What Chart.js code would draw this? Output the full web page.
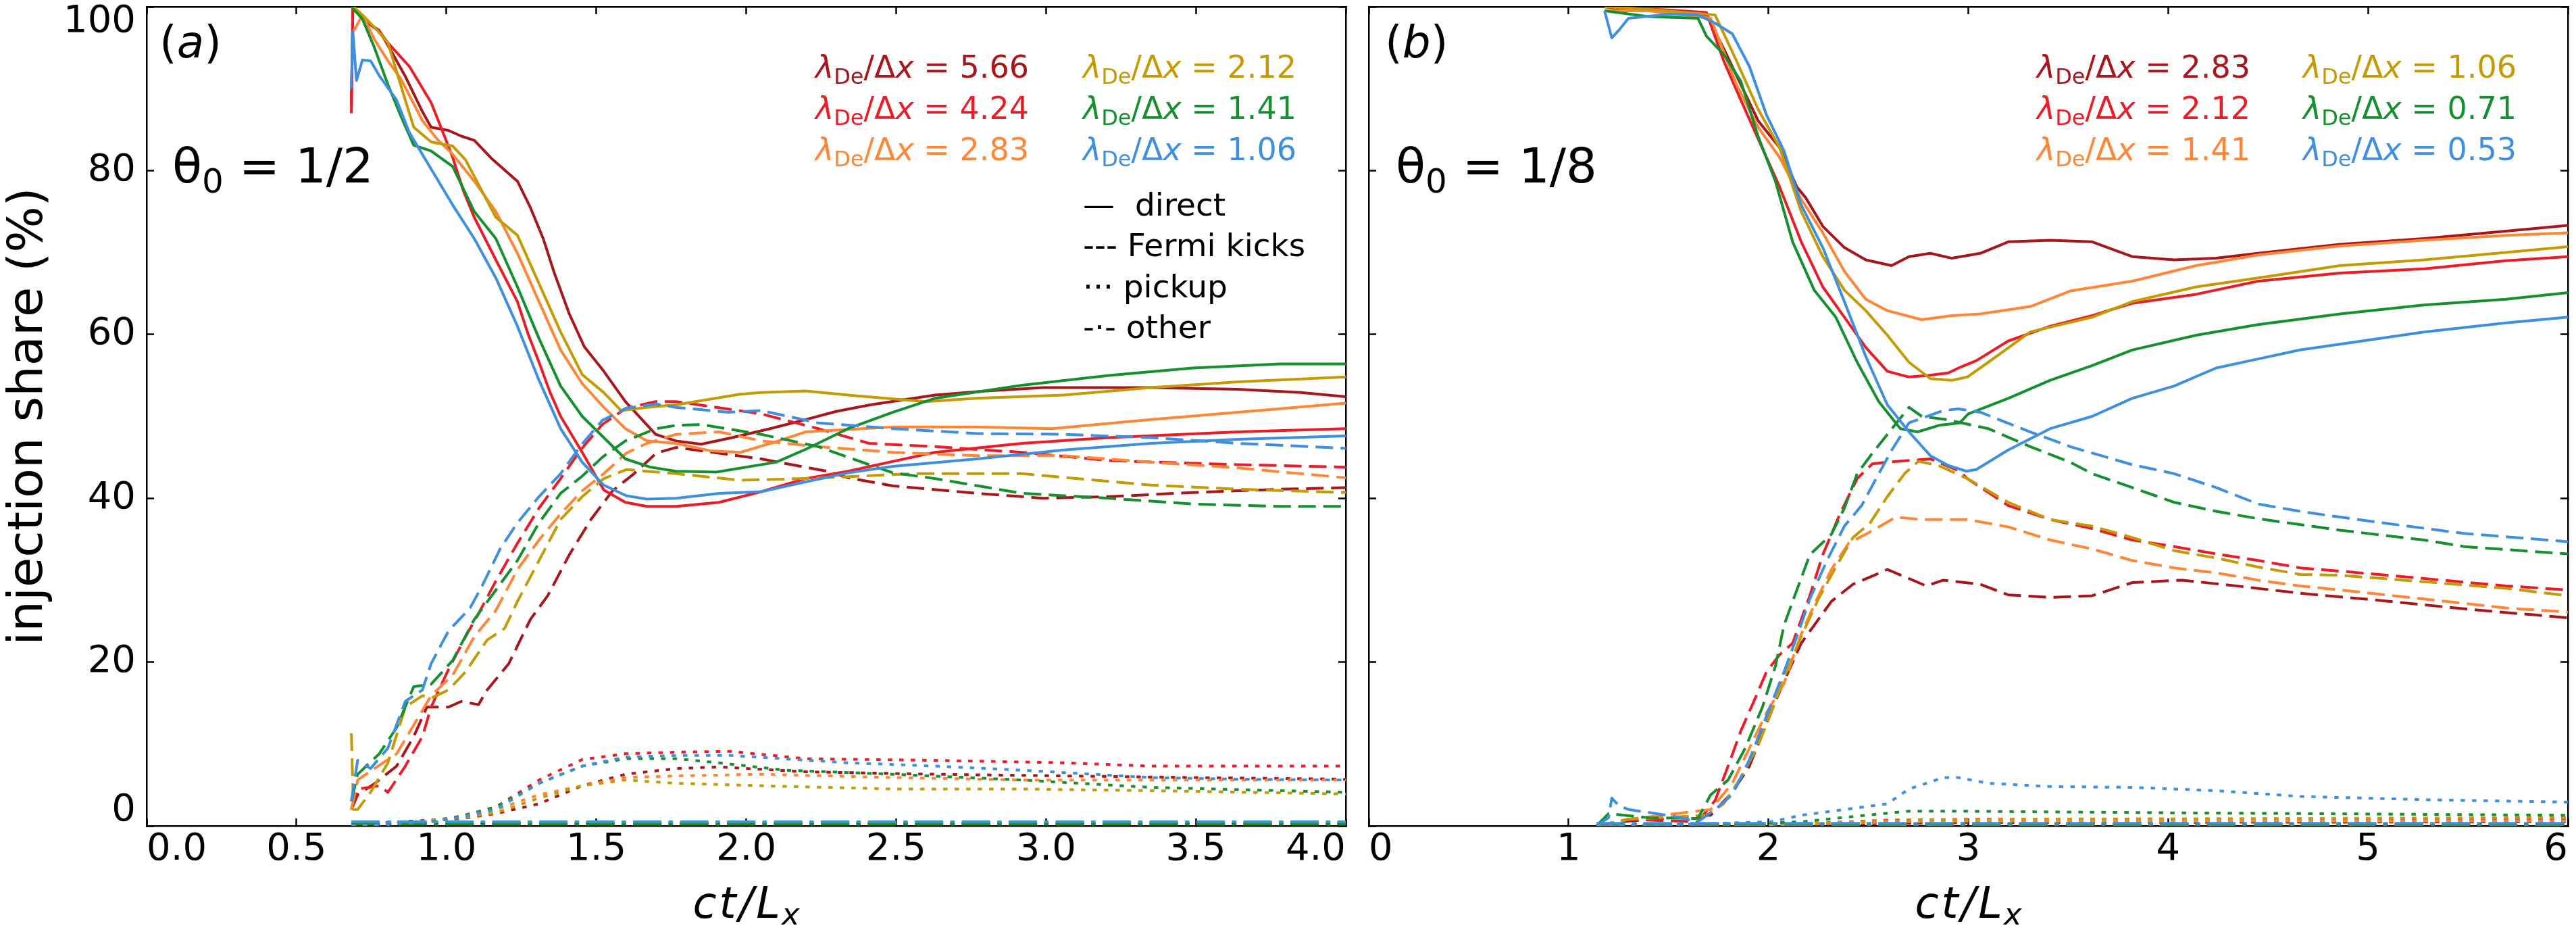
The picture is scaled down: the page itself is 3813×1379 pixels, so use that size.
<!DOCTYPE html>
<html>
<head>
<meta charset="utf-8">
<script src="https://cdn.jsdelivr.net/npm/chart.js@4.4.0/dist/chart.umd.min.js"></script>
<style>
  body { margin: 0; background: #fff; }
  #wrap { position: relative; width: 3813px; height: 1379px; }
  canvas { position: absolute; top: 0; }
</style>
</head>
<body>
<div id="wrap">
  <canvas id="panelA" width="2000" height="1379" style="left:0"></canvas>
  <canvas id="panelB" width="1813" height="1379" style="left:2000px"></canvas>
</div>
<script>
// colour order: darkred, red, orange, gold, green, blue
const palette = ['#a8161b', '#ec1c27', '#ff8636', '#c49a05', '#14902e', '#3f8fe0'];
const lambdaA = ['5.66', '4.24', '2.83', '2.12', '1.41', '1.06'];
const lambdaB = ['2.83', '2.12', '1.41', '1.06', '0.71', '0.53'];
const styleNames = ['direct', 'Fermi kicks', 'pickup', 'other'];

// ---- panel (a), theta0 = 1/2 : points are [ct/Lx, share %] ----
const aDirect = [
  [[0.683,88],[0.688,100],[0.72,98.5],[0.776,97.1],[0.805,95.3],[0.863,91.5],[0.92,87.2],[0.949,85.3],[1.007,84.9],[1.05,84.2],[1.093,83.7],[1.15,81.5],[1.237,78.7],[1.28,75.5],[1.323,71.7],[1.36,67.5],[1.41,62.5],[1.46,58.5],[1.525,55.5],[1.597,51.8],[1.698,47.8],[1.766,47.0],[1.85,46.6],[1.953,47.4],[2.08,48.5],[2.198,49.6],[2.3,50.6],[2.414,51.4],[2.63,52.6],[2.8,53.1],[2.99,53.5],[3.35,53.5],[3.64,53.3],[3.85,52.9],[4.0,52.4]],
  [[0.683,87],[0.688,100],[0.72,98.5],[0.776,97],[0.805,95.6],[0.877,92.7],[0.949,88.3],[0.985,85],[1.021,81.6],[1.057,77.5],[1.093,74.3],[1.165,69.1],[1.237,64],[1.273,60],[1.309,56.6],[1.345,53],[1.381,50],[1.453,45.6],[1.525,41],[1.597,39.5],[1.669,39.0],[1.766,39.0],[1.91,39.5],[2.05,40.8],[2.198,42.4],[2.34,43.3],[2.49,44.5],[2.63,45.6],[2.92,46.7],[3.21,47.4],[3.64,48.1],[4.0,48.5]],
  [[0.69,97],[0.72,99],[0.76,96],[0.805,93.4],[0.848,91.2],[0.92,86.1],[0.97,83.8],[1.021,82],[1.093,78.7],[1.165,75],[1.237,69.9],[1.309,64],[1.381,58.1],[1.453,54],[1.525,51.1],[1.597,48.5],[1.669,47],[1.766,46.7],[1.88,45.8],[1.98,45.6],[2.09,46.8],[2.198,48.1],[2.49,48.7],[2.77,48.7],[3.02,48.5],[3.35,49.6],[3.64,50.5],[4.0,51.6]],
  [[0.69,100],[0.72,99],[0.76,97.5],[0.805,95.6],[0.863,88.6],[0.891,85.3],[0.949,83.5],[1.021,83],[1.064,81.3],[1.165,74.3],[1.237,72.1],[1.309,66.2],[1.381,60.3],[1.453,55.1],[1.525,52.9],[1.583,50.7],[1.669,51.1],[1.766,51.4],[1.98,52.7],[2.05,52.9],[2.198,53.1],[2.37,52.5],[2.6,51.8],[2.77,52.2],[3.06,52.6],[3.35,53.5],[3.64,54.2],[4.0,54.8]],
  [[0.683,100],[0.72,98.5],[0.76,95],[0.805,90.5],[0.85,86.5],[0.891,83.1],[0.949,82.4],[1.021,80.5],[1.093,75],[1.165,71.7],[1.237,65.8],[1.309,59.5],[1.381,53.7],[1.453,50],[1.525,47.4],[1.597,44.8],[1.68,43.8],[1.766,43.3],[1.9,43.2],[2.1,44.4],[2.2,46],[2.34,48.5],[2.49,50.5],[2.63,52.2],[2.92,53.8],[3.21,55],[3.49,55.9],[3.78,56.4],[4.0,56.4]],
  [[0.683,90],[0.688,97],[0.70,91],[0.72,93.5],[0.747,93.4],[0.776,91.6],[0.834,88.6],[0.877,84.6],[0.949,80.2],[1.021,75.8],[1.093,71.7],[1.165,66.9],[1.237,61],[1.309,54.4],[1.381,48.5],[1.453,44.4],[1.525,41.6],[1.6,40.3],[1.669,39.9],[1.766,40],[1.91,40.6],[2.05,40.8],[2.198,42],[2.34,43.1],[2.49,43.9],[2.77,44.8],[3.06,45.9],[3.35,46.7],[3.64,47.2],[4.0,47.6]]
];
const aFermi = [
  [[0.683,2],[0.704,3.8],[0.762,5.2],[0.834,7.3],[0.891,10.9],[0.935,14.5],[1.007,14.5],[1.05,15.2],[1.107,14.8],[1.136,16.6],[1.208,19.8],[1.28,25.2],[1.338,28.1],[1.41,33.1],[1.482,37.4],[1.554,40.9],[1.626,43],[1.7,45.5],[1.766,46.2],[1.85,45.8],[2.05,44.8],[2.27,43.3],[2.34,42.5],[2.49,41.5],[2.77,40.6],[2.99,40],[3.21,40.2],[3.49,40.7],[3.78,41.1],[4.0,41.3]],
  [[0.683,2],[0.704,4.5],[0.776,4.9],[0.805,4.1],[0.863,7.3],[0.92,10.9],[0.949,14.5],[1.007,19.1],[1.064,23.1],[1.107,25.9],[1.165,29.9],[1.237,34.5],[1.309,38.8],[1.381,42.4],[1.45,46],[1.52,49],[1.6,51],[1.698,51.8],[1.766,51.8],[2.05,50.3],[2.24,48.5],[2.41,46.7],[2.63,46.3],[2.92,45.6],[3.21,44.6],[3.64,44.1],[4.0,43.8]],
  [[0.683,2],[0.704,5.6],[0.776,7.4],[0.834,8.8],[0.891,12.3],[0.949,15.9],[1.021,18.4],[1.093,23.1],[1.165,26.3],[1.237,31.3],[1.309,34.9],[1.381,38.1],[1.453,40.9],[1.525,43],[1.6,45.5],[1.669,46.7],[1.766,47.8],[1.91,48.1],[2.05,47],[2.24,46.3],[2.49,45.6],[2.77,45.2],[3.06,45.2],[3.35,44.4],[3.64,43.7],[4.0,42.5]],
  [[0.683,11.3],[0.69,2],[0.704,2],[0.747,4.1],[0.805,7.7],[0.863,14.5],[0.92,15.9],[0.949,15.6],[1.007,16.6],[1.064,18.8],[1.136,22.7],[1.194,24.1],[1.237,27.4],[1.309,32.4],[1.381,37.4],[1.453,40.2],[1.525,42.4],[1.6,43.5],[1.766,43],[1.98,42.2],[2.198,42.4],[2.56,43],[2.92,43],[3.35,41.6],[3.64,41.1],[4.0,40.7]],
  [[0.683,3],[0.704,6.3],[0.776,8.8],[0.834,12],[0.891,17],[0.949,17.3],[1.021,20.2],[1.093,25.2],[1.165,28.8],[1.237,32.4],[1.309,37],[1.381,40.6],[1.453,42.7],[1.52,45],[1.597,47],[1.7,48.5],[1.766,48.9],[1.85,49],[2.05,47.8],[2.24,46.3],[2.41,44.1],[2.49,43.1],[2.63,42.4],[2.92,40.6],[3.21,40],[3.49,39.3],[3.78,39],[4.0,39]],
  [[0.683,3],[0.704,8],[0.747,7],[0.805,9.5],[0.863,15.2],[0.92,16.6],[0.949,19.8],[1.007,23.8],[1.079,26.6],[1.122,29.5],[1.179,33.8],[1.237,37],[1.309,40.2],[1.381,43],[1.45,46.5],[1.52,49.5],[1.6,51],[1.7,51.5],[1.766,51.1],[1.94,50.5],[2.05,50.7],[2.24,49.2],[2.49,48.5],[2.77,47.9],[3.06,47.8],[3.35,47.4],[3.64,46.7],[4.0,46.1]]
];
const aPickup = [
  [[0.683,0],[0.8,0.4],[0.95,0.7],[1.05,0.9],[1.165,1.5],[1.309,2.7],[1.453,4.9],[1.597,6.3],[1.767,7],[1.91,7.2],[2.198,6.6],[2.63,6.3],[3.06,6.1],[3.49,5.9],[4.0,5.7]],
  [[0.683,0],[0.8,0.3],[0.95,0.6],[1.05,1.2],[1.165,2.3],[1.309,5.6],[1.453,8.1],[1.597,8.8],[1.766,9],[1.95,9.1],[2.198,8.2],[2.63,8],[3.06,7.7],[3.35,7.3],[4.0,7.3]],
  [[0.683,0],[0.8,0.3],[0.95,0.6],[1.05,1.1],[1.165,2],[1.309,3.8],[1.453,4.9],[1.597,5.9],[1.767,6.1],[2.05,6.3],[2.49,5.9],[2.92,5.6],[4.0,5.6]],
  [[0.683,0],[0.8,0.3],[0.95,0.6],[1.05,1],[1.165,1.6],[1.309,3.4],[1.453,4.9],[1.597,5.6],[1.767,5.2],[2.05,4.9],[2.49,4.5],[2.92,4.5],[3.35,4.3],[4.0,3.9]],
  [[0.683,0],[0.8,0.2],[0.95,0.5],[1.05,1.2],[1.165,2.3],[1.309,5.2],[1.453,7.3],[1.597,8.2],[1.767,8.2],[1.91,7.7],[2.13,6.8],[2.49,6.3],[2.92,5.6],[3.35,4.7],[4.0,4.1]],
  [[0.683,0],[0.8,0.2],[0.95,0.5],[1.05,1.1],[1.165,2],[1.309,5.2],[1.453,7.3],[1.597,8.4],[1.767,8.6],[1.95,8.6],[2.34,7.7],[2.63,7.3],[2.92,6.8],[3.35,5.9],[3.64,5.7],[4.0,5.6]]
];
const aOther = [
  [[0.683,0.3],[4.0,0.3]],
  [[0.683,0.3],[4.0,0.3]],
  [[0.683,0.3],[4.0,0.3]],
  [[0.683,0.3],[4.0,0.3]],
  [[0.683,0.2],[4.0,0.2]],
  [[0.683,0.5],[4.0,0.5]]
];

// ---- panel (b), theta0 = 1/8 ----
const bDirect = [
  [[1.18,100],[1.3,99.6],[1.5,99.5],[1.69,99],[1.776,94.9],[1.862,90.5],[1.948,86.1],[2.056,82.8],[2.142,78],[2.186,76.7],[2.272,73.2],[2.38,70.6],[2.487,69.1],[2.616,68.4],[2.703,69.5],[2.81,69.9],[2.918,69.3],[3.06,69.9],[3.2,71.3],[3.41,71.5],[3.62,71.3],[3.82,69.5],[4.03,69.1],[4.24,69.3],[4.45,69.9],[4.86,71],[5.28,71.7],[5.69,72.6],[6.0,73.3]],
  [[1.18,100],[1.3,99.8],[1.5,99.6],[1.69,99.3],[1.776,93.4],[1.862,88.6],[1.948,83.9],[2.056,78],[2.164,71.3],[2.272,65.8],[2.38,62.1],[2.487,58.4],[2.595,55.5],[2.703,54.8],[2.8,55],[2.9,55.3],[2.96,56],[3.04,56.8],[3.2,59.2],[3.41,61],[3.62,62.3],[3.82,63.8],[4.14,64.9],[4.45,66.5],[4.86,67.5],[5.28,68],[5.69,69],[6.0,69.5]],
  [[1.18,99.5],[1.4,99.5],[1.711,98.6],[1.84,90.5],[1.948,85.3],[2.056,81.6],[2.164,76.5],[2.272,72.4],[2.38,67.7],[2.487,64.3],[2.595,62.9],[2.767,61.8],[2.918,62.3],[3.06,62.5],[3.31,63.4],[3.51,65.3],[3.82,66.5],[4.14,68.4],[4.45,69.7],[4.86,70.8],[5.28,71.5],[5.69,72.1],[6.0,72.4]],
  [[1.18,100],[1.4,99.7],[1.733,99],[1.84,93.4],[1.948,87.5],[2.056,82.8],[2.164,75],[2.272,69.5],[2.38,65.4],[2.487,62.9],[2.595,59.9],[2.703,56.6],[2.81,54.6],[2.918,54.4],[2.995,54.8],[3.1,56.6],[3.31,60.3],[3.62,62.1],[3.82,64],[4.14,65.8],[4.45,66.9],[4.86,68.4],[5.28,69.1],[5.69,70],[6.0,70.7]],
  [[1.18,99.5],[1.4,98.8],[1.647,98.6],[1.69,96.4],[1.776,94.2],[1.862,90.9],[1.948,84.2],[2.035,78.7],[2.121,71.3],[2.229,65.4],[2.337,62.1],[2.444,56.6],[2.552,51.8],[2.66,48.5],[2.746,48.1],[2.854,48.9],[2.957,49.2],[3.0,50.3],[3.2,52.2],[3.41,54.4],[3.62,56.2],[3.82,58.1],[4.14,59.9],[4.45,61.2],[4.86,62.5],[5.28,63.6],[5.69,64.3],[6.0,65.1]],
  [[1.18,99.5],[1.216,96.2],[1.25,97.1],[1.3,98.6],[1.5,99.1],[1.647,99],[1.733,98],[1.819,96.7],[1.905,92.7],[1.99,86.8],[2.078,82.4],[2.164,75.8],[2.272,70.6],[2.38,64],[2.487,57.3],[2.595,51.4],[2.703,48.1],[2.81,45.2],[2.9,44],[2.99,43.3],[3.04,43.5],[3.2,45.9],[3.41,48.5],[3.62,50],[3.82,52.2],[4.03,53.7],[4.24,55.9],[4.45,57],[4.66,58.1],[4.86,58.8],[5.28,60.3],[5.69,61.4],[6.0,62.1]]
];
const bFermi = [
  [[1.14,0],[1.3,0.6],[1.711,1.3],[1.819,4.1],[1.905,7.3],[1.97,11.3],[2.035,15.2],[2.099,18.8],[2.164,22.3],[2.229,24.5],[2.315,27.4],[2.423,29.5],[2.53,30.6],[2.595,31.3],[2.703,30.2],[2.789,29.3],[2.875,30],[3.06,29.5],[3.2,28.2],[3.41,27.9],[3.62,28.1],[3.82,29.7],[4.07,30],[4.34,29.3],[4.66,28.4],[5.07,27.5],[5.48,26.5],[6.0,25.4]],
  [[1.14,0],[1.3,0.8],[1.647,0.5],[1.733,3.1],[1.798,7.3],[1.862,11.6],[1.927,15.2],[1.99,18.8],[2.056,20.9],[2.121,22.3],[2.207,28.1],[2.272,33.1],[2.358,38.1],[2.444,42.4],[2.52,44.2],[2.595,44.4],[2.81,44.8],[2.957,43.3],[2.995,42.4],[3.2,39.1],[3.41,37.4],[3.62,36.3],[3.82,34.9],[4.03,34.1],[4.24,33.2],[4.45,32.4],[4.66,31.5],[4.86,31.1],[5.28,30.2],[5.69,29.3],[6.0,28.8]],
  [[1.14,0],[1.3,0.8],[1.711,2],[1.819,5.2],[1.905,9.5],[1.99,13.8],[2.078,17.4],[2.164,23.4],[2.229,27],[2.315,31.3],[2.401,34.5],[2.509,35.9],[2.638,37.7],[2.767,37.4],[2.918,37.4],[2.995,37.4],[3.2,36.5],[3.41,34.9],[3.62,33.8],[3.82,32.4],[4.03,31.5],[4.24,30.9],[4.45,30],[4.66,29.3],[4.86,28.8],[5.28,27.7],[5.69,26.6],[6.0,26.1]],
  [[1.14,0],[1.3,0.8],[1.69,1.3],[1.776,2.7],[1.862,5.9],[1.948,9.8],[2.013,13.8],[2.078,18.1],[2.164,23.1],[2.25,27.7],[2.337,31.6],[2.423,35.2],[2.509,37],[2.595,40.2],[2.681,43],[2.75,44.5],[2.85,44],[2.995,42.4],[3.2,39.5],[3.41,37.4],[3.62,36.6],[3.82,35.2],[4.03,33.6],[4.24,32.7],[4.45,31.6],[4.66,30.7],[4.86,30.6],[5.28,29.8],[5.69,29],[6.0,28.1]],
  [[1.14,0],[1.2,1.5],[1.4,1],[1.647,0.9],[1.711,3.8],[1.798,5.6],[1.884,9.5],[1.97,14.5],[2.035,19.5],[2.078,24.5],[2.121,27.4],[2.207,33.1],[2.315,35.6],[2.38,38.8],[2.444,43],[2.52,45.5],[2.595,47.8],[2.703,51.1],[2.767,50],[2.89,49.6],[3.1,48.5],[3.31,46.3],[3.51,44.4],[3.62,43],[3.82,41.3],[4.03,39.5],[4.24,38.4],[4.45,37.5],[4.86,36.1],[5.28,34.9],[5.48,34.1],[6.0,33.2]],
  [[1.14,0],[1.2,1],[1.216,3.4],[1.25,2.5],[1.3,2],[1.52,1.2],[1.647,0.5],[1.733,2],[1.819,3.8],[1.905,8.1],[1.99,13.4],[2.078,18.8],[2.142,23.1],[2.207,27.7],[2.293,32.4],[2.38,36.6],[2.466,39.1],[2.552,43],[2.62,46],[2.703,49.2],[2.875,50.7],[2.95,50.9],[3.06,50.5],[3.31,48.1],[3.51,46.3],[3.82,44.1],[4.03,43],[4.24,41.3],[4.45,39.3],[4.66,38.4],[4.86,37.7],[5.07,37],[5.48,35.7],[6.0,34.7]]
];
const bPickup = [
  [[1.14,0],[2.3,0.2],[3.0,0.4],[6.0,0.5]],
  [[1.14,0],[2.2,0.3],[2.6,0.7],[3.0,0.8],[4.0,0.8],[6.0,0.9]],
  [[1.14,0],[2.2,0.2],[2.6,0.5],[3.0,0.6],[6.0,0.6]],
  [[1.14,0],[2.2,0.3],[2.6,0.6],[3.0,0.8],[6.0,1.0]],
  [[1.14,0],[1.8,0.2],[2.164,0.5],[2.487,1.3],[2.703,1.8],[2.918,1.8],[4.0,1.6],[6.0,1.3]],
  [[1.14,0],[1.6,0.2],[2.013,0.5],[2.164,1.3],[2.38,2],[2.595,2.7],[2.703,4.5],[2.875,5.9],[2.95,5.9],[3.1,5.2],[3.41,4.8],[3.82,4.7],[4.24,4.3],[4.66,3.6],[5.28,3.2],[6.0,2.9]]
];
const bOther = [
  [[1.14,0.2],[6.0,0.2]],
  [[1.14,0.2],[6.0,0.2]],
  [[1.14,0.2],[6.0,0.2]],
  [[1.14,0.2],[6.0,0.2]],
  [[1.14,0.2],[6.0,0.2]],
  [[1.14,0.3],[6.0,0.3]]
];

Chart.defaults.font.family = '"DejaVu Sans", sans-serif';
Chart.defaults.color = '#000';

const FONT = '"DejaVu Sans", sans-serif';
const dashes = [[], [26, 11], [6.5, 10.5], [42, 10.5, 6.5, 10.5]];

function drawRuns(ctx, x, y, runs, color) {
  ctx.fillStyle = color;
  ctx.textBaseline = 'alphabetic';
  ctx.textAlign = 'left';
  for (const r of runs) {
    ctx.font = (r.it ? 'italic ' : '') + r.size + 'px ' + FONT;
    ctx.fillText(r.t, x, y + (r.dy || 0));
    x += ctx.measureText(r.t).width + (r.gap || 0);
  }
  return x;
}

function runsWidth(ctx, runs) {
  let w = 0;
  for (const r of runs) {
    ctx.font = (r.it ? 'italic ' : '') + r.size + 'px ' + FONT;
    w += ctx.measureText(r.t).width + (r.gap || 0);
  }
  return w;
}

function lambdaRuns(val) {
  return [
    {t: 'λ', it: true, size: 46},
    {t: 'De', size: 32, dy: 9},
    {t: '/Δ', size: 46},
    {t: 'x', it: true, size: 46},
    {t: ' = ' + val, size: 46}
  ];
}

// texts drawn on top: panel tag, theta label, coloured key, style key, x title
const annotate = {
  id: 'annotate',
  afterDraw(chart, args, o) {
    const ctx = chart.ctx;
    const area = chart.chartArea;
    ctx.save();
    drawRuns(ctx, o.tagX, 85, [{t: '(', size: 66}, {t: o.tag, it: true, size: 66}, {t: ')', size: 66}], '#000');
    drawRuns(ctx, o.thetaX, 270, [{t: 'θ', size: 72}, {t: '0', size: 50, dy: 15}, {t: ' = ' + o.theta, size: 72}], '#000');
    const rows = [115, 176, 237];
    o.lambdas.forEach((val, i) => {
      const col = i < 3 ? o.col1 : o.col2;
      drawRuns(ctx, col, rows[i % 3], lambdaRuns(val), palette[i]);
    });
    if (o.styleKey) {
      const keys = ['—  direct', '--- Fermi kicks', '··· pickup', '-·- other'];
      const base = [319, 379, 440, 500];
      keys.forEach((k, i) => drawRuns(ctx, o.col2, base[i], [{t: k, size: 47}], '#000'));
    }
    const xt = [
      {t: 'c', it: true, size: 64, gap: 4},
      {t: 't', it: true, size: 64, gap: 4},
      {t: '/', it: true, size: 64, gap: 4},
      {t: 'L', it: true, size: 64, gap: 2},
      {t: 'x', it: true, size: 45, dy: 10}
    ];
    const w = runsWidth(ctx, xt);
    drawRuns(ctx, (area.left + area.right) / 2 - w / 2, 1358, xt, '#000');
    ctx.restore();
  }
};

function zeroPad(s) {
  s.paddingLeft = 0; s.paddingRight = 0; s.paddingTop = 0; s.paddingBottom = 0;
}

function makePanel(canvasId, cfg) {
  const series = [cfg.direct, cfg.fermi, cfg.pickup, cfg.other];
  const datasets = [];
  // first dataset is drawn last in Chart.js, so blue goes first to sit on top
  for (let c = 5; c >= 0; c--) {
    for (let s = 0; s < 4; s++) {
      datasets.push({
        label: cfg.lambdas[c] + ' ' + styleNames[s],
        data: series[s][c].map(p => ({x: p[0], y: p[1]})),
        borderColor: palette[c],
        borderWidth: 4,
        borderDash: dashes[s],
        borderJoinStyle: 'round',
        pointRadius: 0,
        fill: false,
        tension: 0
      });
    }
  }
  const tickGrid = {drawOnChartArea: false, drawTicks: true, tickLength: -11, tickWidth: 2.5, tickColor: '#000'};
  const frame = {display: true, color: '#000', width: 2.5};

  return new Chart(document.getElementById(canvasId), {
    type: 'line',
    data: {datasets},
    options: {
      responsive: false,
      animation: false,
      events: [],
      layout: {padding: {left: 0, right: cfg.padRight, top: 10, bottom: 0}},
      plugins: {
        legend: {display: false},
        tooltip: {enabled: false},
        annotate: cfg.notes
      },
      scales: {
        x: {
          type: 'linear', position: 'bottom', min: 0, max: cfg.xMax,
          ticks: {stepSize: cfg.xStep, align: 'inner', padding: 13, maxRotation: 0, autoSkip: false,
                  font: {size: 56}, color: '#000', callback: cfg.xFmt},
          grid: tickGrid, border: frame,
          afterFit: s => { s.height = 157; zeroPad(s); }
        },
        xTop: {
          type: 'linear', position: 'top', min: 0, max: cfg.xMax,
          ticks: {stepSize: cfg.xStep, display: false},
          grid: tickGrid, border: frame,
          afterFit: s => { s.height = 0; zeroPad(s); }
        },
        y: {
          type: 'linear', position: 'left', min: 0, max: 100,
          ticks: {stepSize: 20, display: cfg.yLabels, padding: 27, autoSkip: false,
                  font: {size: 56, lineHeight: 0.8}, color: '#000',
                  callback: v => v === 100 ? ['', '100'] : (v === 0 ? ['0', ''] : String(v))},
          title: {display: cfg.yLabels, text: 'injection share (%)', font: {size: 72}, color: '#000', padding: 0},
          grid: tickGrid, border: frame,
          afterFit: s => { s.width = cfg.yWidth; zeroPad(s); }
        },
        yRight: {
          type: 'linear', position: 'right', min: 0, max: 100,
          ticks: {stepSize: 20, display: false},
          grid: tickGrid, border: frame,
          afterFit: s => { s.width = 0; zeroPad(s); }
        }
      }
    },
    plugins: [annotate]
  });
}

makePanel('panelA', {
  direct: aDirect, fermi: aFermi, pickup: aPickup, other: aOther,
  lambdas: lambdaA, xMax: 4.0, xStep: 0.5, xFmt: v => v.toFixed(1),
  yLabels: true, yWidth: 217, padRight: 8,
  notes: {tag: 'a', tagX: 236, thetaX: 255, theta: '1/2', lambdas: lambdaA, col1: 1207, col2: 1603, styleKey: true}
});

makePanel('panelB', {
  direct: bDirect, fermi: bFermi, pickup: bPickup, other: bOther,
  lambdas: lambdaB, xMax: 6, xStep: 1, xFmt: v => String(v),
  yLabels: false, yWidth: 26, padRight: 12,
  notes: {tag: 'b', tagX: 50, thetaX: 66, theta: '1/8', lambdas: lambdaB, col1: 1015, col2: 1409, styleKey: false}
});
</script>
</body>
</html>
